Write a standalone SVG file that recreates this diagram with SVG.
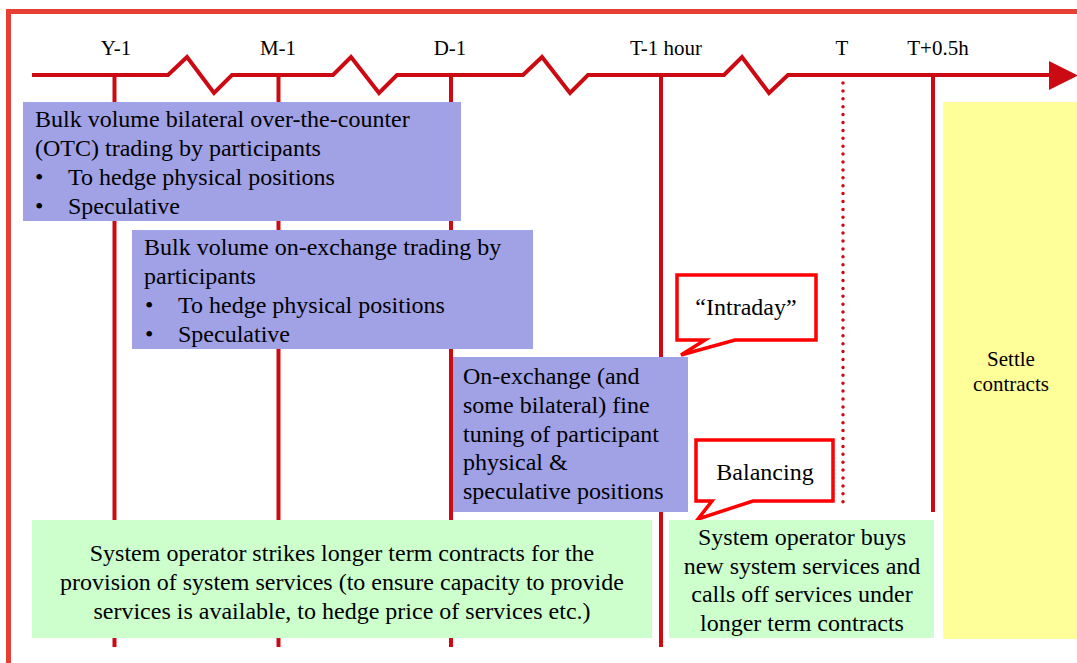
<svg xmlns="http://www.w3.org/2000/svg" width="1077" height="663" viewBox="0 0 1077 663">
<style>
.t{font-family:"Liberation Serif","Times New Roman",serif;fill:#000}
.lab{font-size:21px;text-anchor:middle}
.bx{font-size:24px}
.c{text-anchor:middle}
.vl{stroke:#cc0a14;stroke-width:4;fill:none}
.call{fill:#fff;stroke:#ff0000;stroke-width:3.5;stroke-linejoin:miter}
</style>
<rect width="1077" height="663" fill="#fff"/>
<rect x="8.5" y="11.5" width="1100" height="700" fill="none" stroke="#e64034" stroke-width="5"/>
<g id="connectors">
<polyline class="vl" points="32,75 168,75 187,57 214,93 232,75 333,75 351,57 379,93 397,75 523,75 542,57 570,93 588,75 724,75 742,57 769,93 788,75 1052,75"/>
<polygon points="1049,61 1078,75.5 1049,90" fill="#cc0a14"/>
<line class="vl" x1="114.5" y1="75" x2="114.5" y2="647"/>
<line class="vl" x1="278.5" y1="75" x2="278.5" y2="647"/>
<line class="vl" x1="451" y1="75" x2="451" y2="647"/>
<line class="vl" x1="661" y1="75" x2="661" y2="647"/>
<line class="vl" x1="933" y1="75" x2="933" y2="512"/>
<line x1="843" y1="83" x2="843" y2="506" stroke="#cc0a14" stroke-width="3.5" stroke-linecap="round" stroke-dasharray="0 7.9"/>
</g>
<g id="labels">
<text class="t lab" x="116" y="55">Y-1</text>
<text class="t lab" x="278" y="55">M-1</text>
<text class="t lab" x="450" y="55">D-1</text>
<text class="t lab" x="666" y="55">T-1 hour</text>
<text class="t lab" x="842" y="55">T</text>
<text class="t lab" x="938" y="55">T+0.5h</text>
</g>
<g id="otc">
<rect x="23" y="102" width="438" height="119" fill="#a1a1e6"/>
<text class="t bx" x="35" y="127">Bulk volume bilateral over-the-counter</text>
<text class="t bx" x="35" y="156">(OTC) trading by participants</text>
<text class="t bx" x="35" y="185">•</text>
<text class="t bx" x="68" y="185">To hedge physical positions</text>
<text class="t bx" x="35" y="214">•</text>
<text class="t bx" x="68" y="214">Speculative</text>
</g>
<g id="exchange">
<rect x="132" y="230" width="401" height="119" fill="#a1a1e6"/>
<text class="t bx" x="144" y="255">Bulk volume on-exchange trading by</text>
<text class="t bx" x="144" y="284">participants</text>
<text class="t bx" x="145" y="313">•</text>
<text class="t bx" x="178" y="313">To hedge physical positions</text>
<text class="t bx" x="145" y="342">•</text>
<text class="t bx" x="178" y="342">Speculative</text>
</g>
<g id="finetuning">
<rect x="453" y="357" width="235" height="155" fill="#a1a1e6"/>
<text class="t bx" x="463" y="384">On-exchange (and</text>
<text class="t bx" x="463" y="413">some bilateral) fine</text>
<text class="t bx" x="463" y="442">tuning of participant</text>
<text class="t bx" x="463" y="470">physical &amp;</text>
<text class="t bx" x="463" y="499">speculative positions</text>
</g>
<g id="intraday">
<path class="call" d="M677,275 H816 V340 H735 L681,355 L705,340 H677 Z"/>
<text class="t bx c" x="746" y="315">“Intraday”</text>
</g>
<g id="balancing">
<path class="call" d="M696,440 H833 V501 H753 L698,519 L712,501 H696 Z"/>
<text class="t bx c" x="765" y="480">Balancing</text>
</g>
<g id="longterm">
<rect x="32" y="520" width="620" height="118" fill="#ccffcc"/>
<text class="t bx c" x="342" y="561">System operator strikes longer term contracts for the</text>
<text class="t bx c" x="342" y="590">provision of system services (to ensure capacity to provide</text>
<text class="t bx c" x="342" y="619">services is available, to hedge price of services etc.)</text>
</g>
<g id="buys">
<rect x="669" y="520" width="265" height="118" fill="#ccffcc"/>
<text class="t bx c" x="802" y="545">System operator buys</text>
<text class="t bx c" x="802" y="574">new system services and</text>
<text class="t bx c" x="802" y="602">calls off services under</text>
<text class="t bx c" x="802" y="631">longer term contracts</text>
</g>
<g id="settle">
<rect x="943" y="102" width="134" height="537" fill="#ffff99"/>
<text class="t c" style="font-size:21px" x="1011" y="366">Settle</text>
<text class="t c" style="font-size:21px" x="1011" y="391">contracts</text>
</g>
</svg>
